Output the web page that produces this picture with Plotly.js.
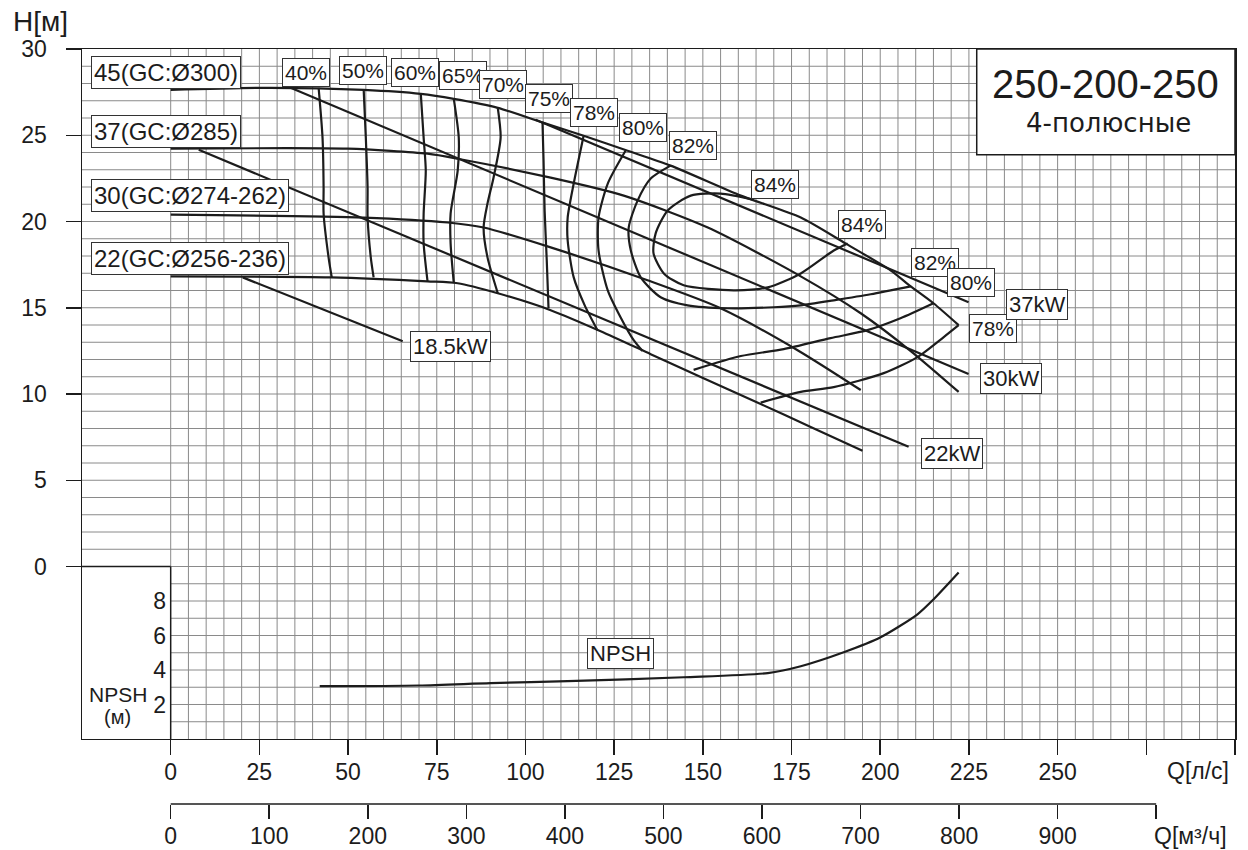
<!DOCTYPE html>
<html>
<head>
<meta charset="utf-8">
<script src="https://cdn.plot.ly/plotly-3.0.1.min.js"></script>
<style>html,body{margin:0;padding:0;background:#fff;}#chart{width:1248px;height:850px;}</style>
</head>
<body>
<div id="chart"></div>
<script>
// ---------- DATA (Q in l/s, H in m) ----------
// H-Q curves
const q_d300 = [0, 28.2, 54.4, 70.5, 79.8, 92.2, 105.1, 116.4, 128.8, 140.9, 160.7, 177.6, 190.2, 202.9, 208.6, 215.0, 222.1];
const h_d300 = [27.63, 27.75, 27.63, 27.40, 27.11, 26.59, 25.72, 24.97, 24.10, 23.24, 21.50, 20.23, 18.73, 17.17, 16.24, 15.26, 13.99];
const q_d285 = [0, 49.9, 72.4, 80.9, 107.1, 127.7, 151.4, 177.6, 194.5, 208.6, 222.1];
const h_d285 = [24.22, 24.22, 23.93, 23.64, 22.54, 21.50, 19.65, 16.82, 14.68, 12.49, 10.12];
const q_d274 = [0, 54.4, 78.1, 88.2, 107.1, 134.4, 155.0, 176.7, 194.5];
const h_d274 = [20.40, 20.23, 19.94, 19.65, 18.50, 16.59, 14.97, 12.54, 10.23];
const q_d256 = [0, 45.1, 72.4, 80.9, 92.2, 107.1, 121.2, 135.3, 149.4, 166.3, 180.4, 195.0];
const h_d256 = [16.82, 16.76, 16.53, 16.42, 15.84, 14.86, 13.64, 12.31, 10.98, 9.42, 8.09, 6.71];

// power lines
const q_p37 = [102.9, 224.9];  const h_p37 = [25.90, 15.32];
const q_p30 = [33.8, 224.9];   const h_p30 = [27.75, 11.16];
const q_p22 = [7.9, 208.0];    const h_p22 = [24.16, 6.94];
const q_p18 = [20.3, 65.4];    const h_p18 = [16.76, 13.06];

// iso-efficiency curves
const q_e40 = [41.7, 42.8, 43.1, 43.1, 44.5, 45.4];
const h_e40 = [27.75, 24.86, 21.97, 20.46, 17.92, 16.76];
const q_e50 = [54.4, 55.0, 55.5, 55.5, 56.4, 57.2];
const h_e50 = [27.63, 24.86, 21.97, 20.23, 17.92, 16.76];
const q_e60 = [70.5, 71.3, 71.9, 71.3, 71.3, 72.4];
const h_e60 = [27.40, 24.86, 22.95, 20.46, 18.73, 16.53];
const q_e65 = [79.8, 81.2, 80.9, 78.9, 78.9, 79.8];
const h_e65 = [27.11, 24.86, 22.95, 20.46, 18.73, 16.42];
const q_e70 = [92.2, 93.0, 91.0, 89.3, 88.2, 89.3, 92.2];
const h_e70 = [26.59, 24.86, 22.54, 21.04, 19.65, 17.92, 15.84];
const q_e75 = [104.8, 105.1, 105.4, 106.0, 106.5];
const h_e75 = [25.78, 23.53, 20.64, 17.75, 14.97];
const q_e78a = [116.4, 113.6, 111.9, 111.9, 113.6, 116.7, 120.3];
const h_e78a = [24.97, 22.20, 20.23, 18.90, 16.76, 15.14, 13.70];
const q_e78b = [166.3, 177.6, 186.9, 201.0, 210.5, 217.9, 222.1];
const h_e78b = [9.50, 10.12, 10.40, 11.21, 12.14, 13.30, 13.99];
const q_e80a = [128.2, 123.2, 120.6, 120.6, 123.2, 126.8, 130.5, 133.0];
const h_e80a = [24.10, 22.20, 20.23, 18.32, 16.01, 14.45, 13.12, 12.49];
const q_e80b = [147.4, 160.7, 172.8, 186.0, 196.4, 205.7, 215.0];
const h_e80b = [11.40, 12.20, 12.60, 13.24, 13.70, 14.39, 15.26];
const q_e82 = [140.9, 135.3, 131.6, 129.1, 129.7, 132.5, 138.1, 145.7, 157.0, 170.0, 177.6, 186.9, 197.3, 208.6];
const h_e82 = [23.24, 22.49, 21.21, 19.65, 18.32, 16.76, 15.61, 15.14, 14.97, 15.03, 15.14, 15.43, 15.78, 16.24];
const q_e84 = [164.3, 155.0, 146.6, 140.1, 136.7, 136.1, 139.0, 144.6, 158.7, 168.3, 177.6, 186.9, 190.8];
const h_e84 = [21.27, 21.62, 21.50, 20.64, 19.31, 18.15, 16.99, 16.30, 16.01, 16.18, 16.99, 18.32, 18.73];

// NPSH (m)
const q_npsh = [42, 70, 90.2, 111.9, 144.6, 168.3, 177.6, 189.7, 200.1, 210.5, 215.0, 222.1];
const npsh   = [3.06, 3.10, 3.24, 3.35, 3.58, 3.82, 4.22, 5.03, 5.90, 7.23, 8.09, 9.65];

// tick labels
const qTickVals  = [0, 25, 50, 75, 100, 125, 150, 175, 200, 225, 250, 275, 300];
const qTickText  = ['0','25','50','75','100','125','150','175','200','225','250','',''];
const m3TickVals = [0, 100, 200, 300, 400, 500, 600, 700, 800, 900, 1000];
const m3TickText = ['0','100','200','300','400','500','600','700','800','900',''];
const hTickVals  = [0, 5, 10, 15, 20, 25, 30];
const npshTickVals = [2, 4, 6, 8];

// label texts
const curveLabels = ['45(GC:Ø300)', '37(GC:Ø285)', '30(GC:Ø274-262)', '22(GC:Ø256-236)'];
const effLabels = ['40%','50%','60%','65%','70%','75%','78%','80%','82%','84%','84%','82%','80%','78%'];
const powerLabels = ['37kW','30kW','22kW','18.5kW'];

// ---------- STYLE ----------
const INK = '#1c1c1c';
const FONT = 'Liberation Sans, Arial, Helvetica, sans-serif';
const GRID = '#8a8a8a';

function line(x, y, spline, extra) {
  return Object.assign({
    x: x, y: y, type: 'scatter', mode: 'lines',
    line: {color: INK, width: 2.2, shape: spline ? 'spline' : 'linear', smoothing: 0.7},
    hoverinfo: 'skip', showlegend: false
  }, extra || {});
}

const traces = [
  line(q_d300, h_d300, true), line(q_d285, h_d285, true),
  line(q_d274, h_d274, true), line(q_d256, h_d256, true),
  line(q_p37, h_p37, false), line(q_p30, h_p30, false),
  line(q_p22, h_p22, false), line(q_p18, h_p18, false),
  line(q_e40, h_e40, true), line(q_e50, h_e50, true), line(q_e60, h_e60, true),
  line(q_e65, h_e65, true), line(q_e70, h_e70, true), line(q_e75, h_e75, true),
  line(q_e78a, h_e78a, true), line(q_e78b, h_e78b, true),
  line(q_e80a, h_e80a, true), line(q_e80b, h_e80b, true),
  line(q_e82, h_e82, true), line(q_e84, h_e84, true),
  line(q_npsh, npsh, true, {yaxis: 'y2'}),
  // carrier for the m3/h axis
  {x: [m3TickVals[0], m3TickVals[m3TickVals.length-1]], y: [-50, -50], xaxis: 'x2', yaxis: 'y',
   type: 'scatter', mode: 'lines', line: {width: 1, color: 'rgba(0,0,0,0)'}, hoverinfo: 'skip', showlegend: false}
];

// ---------- GRID (shapes, below traces) ----------
const shapes = [];
for (let h = -9; h <= 29; h++) {
  shapes.push({type: 'line', xref: 'x', yref: 'y', layer: 'below',
    x0: h >= 1 ? -25 : 0, x1: 300, y0: h, y1: h, line: {color: GRID, width: 1}});
}
for (let q = 5; q <= 295; q += 5) {
  shapes.push({type: 'line', xref: 'x', yref: 'y', layer: 'below',
    x0: q, x1: q, y0: -10, y1: 30, line: {color: GRID, width: 1}});
}
shapes.push({type: 'line', xref: 'x', yref: 'y', layer: 'below', x0: 0, x1: 0, y0: 0, y1: 30, line: {color: GRID, width: 1}});
// NPSH box borders
shapes.push({type: 'line', xref: 'x', yref: 'y', x0: -25, x1: 0, y0: 0, y1: 0, line: {color: INK, width: 1.5}});
shapes.push({type: 'line', xref: 'x', yref: 'y', x0: 0, x1: 0, y0: -10, y1: 0, line: {color: INK, width: 1.5}});
// title box
shapes.push({type: 'rect', xref: 'x', yref: 'y', layer: 'below', x0: 227.2, x1: 300, y0: 23.87, y1: 30,
  fillcolor: '#ffffff', line: {color: INK, width: 1.5}});
// m3/h axis line
shapes.push({type: 'line', xref: 'x2', yref: 'paper', x0: m3TickVals[0], x1: m3TickVals[m3TickVals.length-1], y0: 0, y1: 0,
  line: {color: INK, width: 1.5}});

// ---------- ANNOTATIONS ----------
function box(text, x, y, size, xanchor) {
  return {text: text, x: x, y: y, xref: 'x', yref: 'y', showarrow: false,
    xanchor: xanchor || 'center', yanchor: 'middle',
    font: {family: FONT, size: size, color: INK},
    bgcolor: '#ffffff', bordercolor: '#333333', borderwidth: 1, borderpad: 2};
}
function txt(text, x, y, size, xref, yref, family) {
  return {text: text, x: x, y: y, xref: xref || 'x', yref: yref || 'y', showarrow: false,
    xanchor: 'center', yanchor: 'middle', font: {family: family || FONT, size: size, color: INK}};
}

const annotations = [
  box(curveLabels[0], -22.5, 28.64, 24, 'left'),
  box(curveLabels[1], -22.5, 25.23, 24, 'left'),
  box(curveLabels[2], -22.5, 21.53, 24, 'left'),
  box(curveLabels[3], -22.5, 17.83, 24, 'left'),
  box(effLabels[0], 38.0, 28.61, 21),
  box(effLabels[1], 54.1, 28.73, 21),
  box(effLabels[2], 68.8, 28.61, 21),
  box(effLabels[3], 82.3, 28.44, 21),
  box(effLabels[4], 93.6, 27.92, 21),
  box(effLabels[5], 106.5, 27.11, 21),
  box(effLabels[6], 119.2, 26.30, 21),
  box(effLabels[7], 133.0, 25.43, 21),
  box(effLabels[8], 147.1, 24.39, 21),
  box(effLabels[9], 170.2, 22.14, 21),
  box(effLabels[10], 195.0, 19.83, 21),
  box(effLabels[11], 215.3, 17.63, 21),
  box(effLabels[12], 225.5, 16.47, 21),
  box(effLabels[13], 231.7, 13.82, 21),
  box(powerLabels[0], 244.1, 15.20, 22),
  box(powerLabels[1], 236.8, 10.87, 22),
  box(powerLabels[2], 220.1, 6.53, 22),
  box(powerLabels[3], 78.9, 12.77, 22),
  box('NPSH', 126.8, -5.03, 22),
  txt('250-200-250', 263.5, 27.98, 40),
  txt('4-полюсные', 264.4, 25.72, 26, 'x', 'y', 'DejaVu Sans, sans-serif'),
  txt('H[м]', -0.0356, 1.0358, 28, 'paper', 'paper'),
  txt('NPSH', -14.9, -7.4, 21),
  txt('(м)', -14.9, -8.73, 20),
  txt('Q[л/с]', 289.7, 0.0437, 23, 'x', 'paper'),
  txt('Q[м³/ч]', 1035, -0.0423, 23, 'x2', 'paper')
];

const tickFont = {family: FONT, size: 23, color: INK};

const layout = {
  width: 1248, height: 850,
  margin: {l: 82, r: 13, t: 49, b: 46, pad: 0},
  paper_bgcolor: '#ffffff', plot_bgcolor: '#ffffff',
  showlegend: false,
  font: {family: FONT, color: INK},
  xaxis: {range: [-25, 300], domain: [0, 1], anchor: 'y',
    tickmode: 'array', tickvals: qTickVals, ticktext: qTickText,
    ticks: 'outside', ticklen: 15, tickwidth: 1.5, tickcolor: INK,
    showline: true, linecolor: INK, linewidth: 1.5, mirror: true,
    showgrid: false, zeroline: false, tickfont: tickFont, ticklabelstandoff: -3, fixedrange: true},
  yaxis: {range: [-10, 30], domain: [0.0861, 1], anchor: 'x',
    tickmode: 'array', tickvals: hTickVals,
    ticks: 'outside', ticklen: 15, tickwidth: 1.5, tickcolor: INK,
    showline: true, linecolor: INK, linewidth: 1.5, mirror: true,
    showgrid: false, zeroline: false, tickfont: tickFont, ticklabelstandoff: 14, fixedrange: true},
  yaxis2: {overlaying: 'y', anchor: 'free', position: 0.0763, side: 'left',
    range: [0, 40], tickmode: 'array', tickvals: npshTickVals,
    ticks: '', showline: false, showgrid: false, zeroline: false,
    tickfont: tickFont, ticklabelstandoff: 4, fixedrange: true},
  xaxis2: {overlaying: 'x', anchor: 'free', position: 0, side: 'bottom',
    range: [-90, 1080], tickmode: 'array', tickvals: m3TickVals, ticktext: m3TickText,
    ticks: 'outside', ticklen: 14, tickwidth: 1.5, tickcolor: INK,
    showline: false, showgrid: false, zeroline: false,
    tickfont: tickFont, ticklabelstandoff: -3, fixedrange: true},
  shapes: shapes,
  annotations: annotations
};

Plotly.newPlot('chart', traces, layout, {staticPlot: true, displayModeBar: false});
</script>
</body>
</html>
